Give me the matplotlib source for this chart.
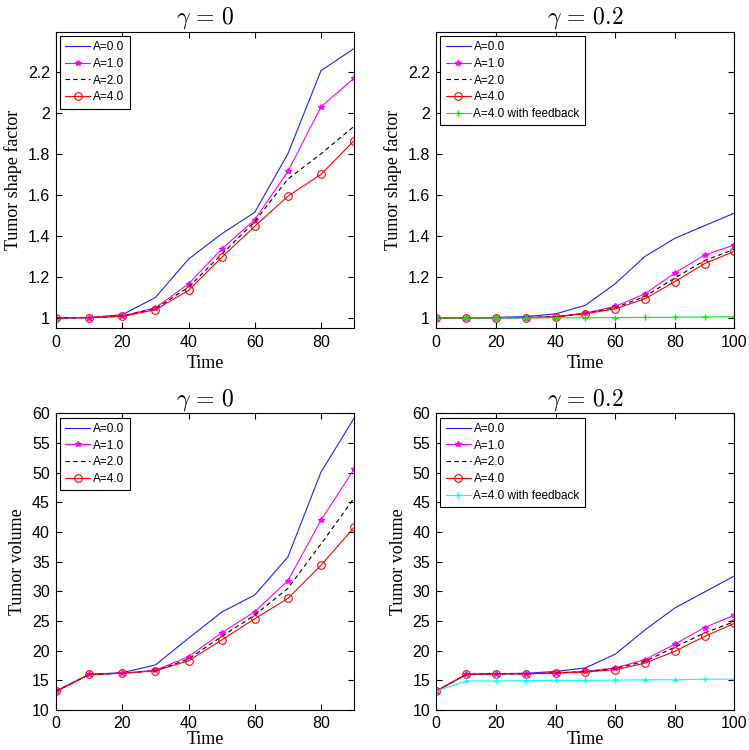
import matplotlib
matplotlib.use("Agg")
import matplotlib.pyplot as plt

plt.rcParams['mathtext.fontset'] = 'cm'
plt.rcParams['font.family'] = ['Liberation Sans', 'DejaVu Sans']

# time axes
T_G0 = [0, 10, 20, 30, 40, 50, 60, 70, 80, 90]
T_G2 = [0, 10, 20, 30, 40, 50, 60, 70, 80, 90, 100]
LABELS = ["A=0.0", "A=1.0", "A=2.0", "A=4.0", "A=4.0 with feedback"]

# tumor shape factor, gamma = 0
SF_G0_A0 = [1.0, 1.002, 1.016, 1.10, 1.287, 1.41, 1.515, 1.80, 2.205, 2.313]
SF_G0_A1 = [1.0, 1.002, 1.010, 1.05, 1.166, 1.336, 1.479, 1.714, 2.029, 2.169]
SF_G0_A2 = [1.0, 1.002, 1.009, 1.045, 1.15, 1.31, 1.47, 1.677, 1.80, 1.934]
SF_G0_A4 = [1.0, 1.002, 1.008, 1.04, 1.135, 1.295, 1.447, 1.593, 1.70, 1.864]

# tumor shape factor, gamma = 0.2
SF_G2_A0 = [1.0, 1.0, 1.003, 1.007, 1.02, 1.062, 1.167, 1.30, 1.388, 1.45, 1.511]
SF_G2_A1 = [1.0, 1.0, 1.001, 1.002, 1.007, 1.024, 1.057, 1.118, 1.219, 1.307, 1.356]
SF_G2_A2 = [1.0, 1.0, 1.001, 1.002, 1.006, 1.022, 1.05, 1.105, 1.195, 1.28, 1.335]
SF_G2_A4 = [1.0, 1.0, 1.001, 1.002, 1.005, 1.021, 1.044, 1.094, 1.177, 1.265, 1.325]
SF_G2_FB = [1.0, 1.0, 1.0, 1.0, 1.001, 1.001, 1.002, 1.003, 1.004, 1.005, 1.006]

# tumor volume, gamma = 0
V_G0_A0 = [13.1, 16.0, 16.3, 17.6, 22.1, 26.5, 29.4, 35.8, 50.1, 59.2]
V_G0_A1 = [13.2, 16.0, 16.2, 16.7, 19.0, 23.0, 26.6, 31.8, 42.0, 50.6]
V_G0_A2 = [13.2, 16.0, 16.2, 16.6, 18.6, 22.4, 26.0, 30.5, 38.0, 45.7]
V_G0_A4 = [13.2, 16.0, 16.2, 16.6, 18.3, 21.8, 25.4, 28.8, 34.4, 40.8]

# tumor volume, gamma = 0.2
V_G2_A0 = [13.2, 16.0, 16.1, 16.2, 16.5, 17.1, 19.4, 23.5, 27.2, 29.9, 32.6]
V_G2_A1 = [13.2, 16.0, 16.1, 16.1, 16.3, 16.5, 17.1, 18.5, 21.1, 23.9, 26.0]
V_G2_A2 = [13.2, 16.0, 16.1, 16.1, 16.25, 16.45, 17.0, 18.2, 20.6, 23.0, 24.9]
V_G2_A4 = [13.2, 16.0, 16.1, 16.1, 16.2, 16.4, 16.8, 17.9, 19.9, 22.4, 24.6]
V_G2_FB = [13.2, 14.9, 14.9, 14.95, 15.0, 15.0, 15.05, 15.1, 15.1, 15.2, 15.2]

fig = plt.figure(figsize=(7.49, 7.5), dpi=100)
W = 0.398
H = 0.3955
ax_tl = fig.add_axes([0.0748, 0.5623, W, H])
ax_tr = fig.add_axes([0.5825, 0.5623, W, H])
ax_bl = fig.add_axes([0.0748, 0.0533, W, H])
ax_br = fig.add_axes([0.5825, 0.0533, W, H])


def draw(ax, t, a0, a1, a2, a4, fb=None, fbcolor=None):
    ax.plot(t, a0, color='#2020ff', lw=0.8, label=LABELS[0])
    ax.plot(t, a1, color='#ff00ff', lw=0.8, marker='*', ms=4, label=LABELS[1])
    ax.plot(t, a2, color='black', lw=0.8, ls=(0, (4, 3)), label=LABELS[2])
    ax.plot(t, a4, color='#ff0000', lw=0.8, marker='o', ms=5.5, mfc='none',
            mew=0.8, label=LABELS[3])
    if fb is not None:
        ax.plot(t, fb, color=fbcolor, lw=0.8, marker='+', ms=4.5, label=LABELS[4])
    ax.tick_params(direction='in', top=True, right=True, labelsize=11.5, length=4)
    ax.tick_params(axis='x', pad=4.5)
    ax.tick_params(axis='y', pad=4.5)
    leg = ax.legend(loc='upper left', fontsize=8.5, fancybox=False,
                    edgecolor='black', framealpha=1, borderaxespad=0.35,
                    handlelength=2.1, handletextpad=0.25, labelspacing=0.4,
                    borderpad=0.45)
    leg.get_frame().set_linewidth(0.8)


draw(ax_tl, T_G0, SF_G0_A0, SF_G0_A1, SF_G0_A2, SF_G0_A4)
draw(ax_tr, T_G2, SF_G2_A0, SF_G2_A1, SF_G2_A2, SF_G2_A4, SF_G2_FB, '#00f000')
draw(ax_bl, T_G0, V_G0_A0, V_G0_A1, V_G0_A2, V_G0_A4)
draw(ax_br, T_G2, V_G2_A0, V_G2_A1, V_G2_A2, V_G2_A4, V_G2_FB, '#00ffff')

for ax in (ax_tl, ax_tr):
    ax.set_ylim(0.95, 2.395)
    ax.set_yticks([1, 1.2, 1.4, 1.6, 1.8, 2, 2.2])
    ax.set_yticklabels(["1", "1.2", "1.4", "1.6", "1.8", "2", "2.2"])
    ax.set_ylabel("Tumor shape factor", family='Liberation Serif', fontsize=13)
    ax.set_xlabel("Time", family='Liberation Serif', fontsize=13, labelpad=4)
for ax in (ax_bl, ax_br):
    ax.set_ylim(10, 60)
    ax.set_yticks(range(10, 61, 5))
    ax.set_ylabel("Tumor volume", family='Liberation Serif', fontsize=13)
    ax.set_xlabel("Time", family='Liberation Serif', fontsize=13, labelpad=0)
for ax in (ax_tl, ax_bl):
    ax.set_xlim(0, 90)
    ax.set_xticks([0, 20, 40, 60, 80])
    ax.set_title(r"$\gamma\,=\,0$", fontsize=17)
for ax in (ax_tr, ax_br):
    ax.set_xlim(0, 100)
    ax.set_xticks([0, 20, 40, 60, 80, 100])
    ax.set_title(r"$\gamma\,=\,0.2$", fontsize=17)

fig.savefig("out.png", dpi=100)
